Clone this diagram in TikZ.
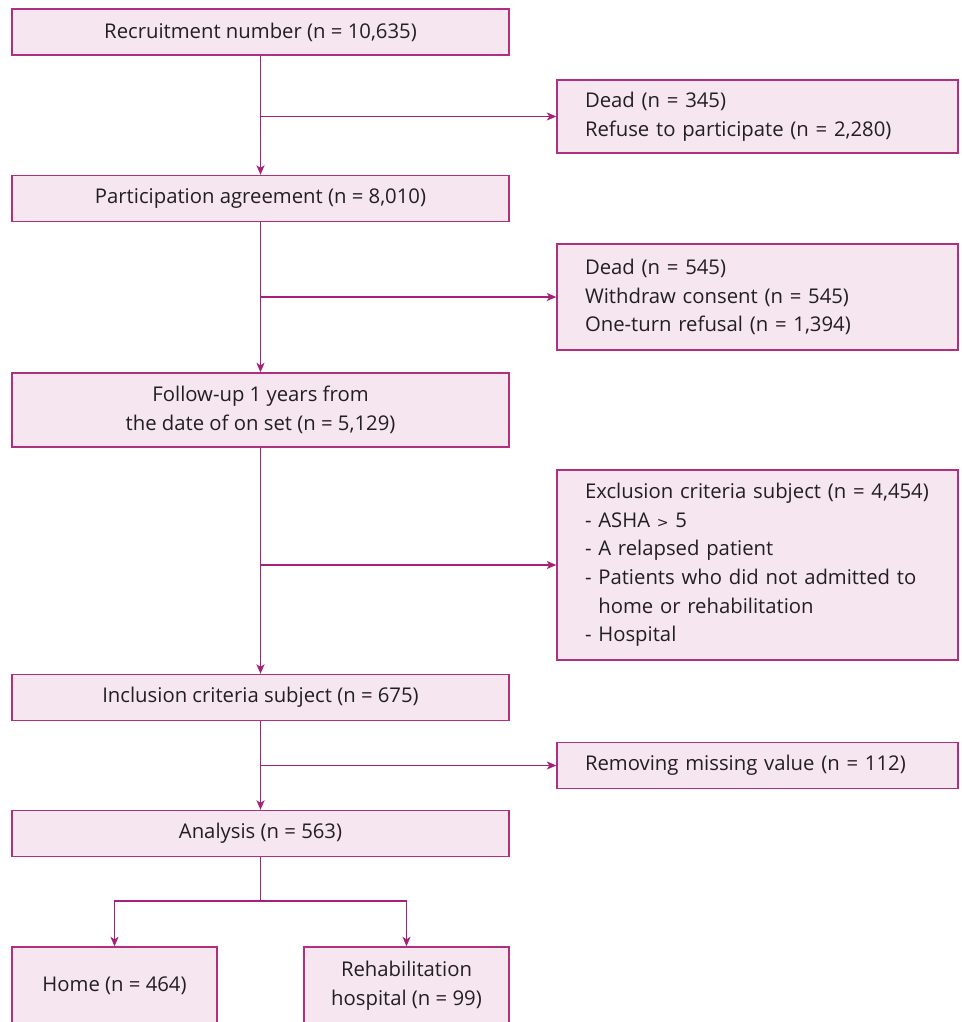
\documentclass[tikz,border=0pt]{standalone}
\usepackage{fontspec}
\setmainfont{Open Sans}
\usetikzlibrary{positioning, arrows.meta}

\definecolor{boxline}{HTML}{B0307F}
\definecolor{boxfill}{HTML}{F5E6F0}
\definecolor{linkcol}{HTML}{A4207A}
\definecolor{txtcol}{HTML}{231F20}

\tikzset{
  mainbox/.style={draw=boxline, line width=0.8pt, fill=boxfill, text=txtcol,
    minimum width=9.94cm, minimum height=0.92cm, align=center, inner sep=0pt,
    font=\fontsize{11.55}{16.3}\selectfont},
  sidebox/.style={draw=boxline, line width=0.8pt, fill=boxfill, text=txtcol,
    text width=6.9cm, inner xsep=0.56cm, inner ysep=0pt, align=left,
    minimum height=0.92cm, font=\fontsize{11.55}{16.3}\selectfont},
  endbox/.style={mainbox, minimum width=4.1cm, minimum height=1.56cm},
  link/.style={draw=linkcol, line width=0.8pt,
    -{Stealth[length=1.9mm, width=1.6mm, inset=0.5mm]}},
  plain/.style={draw=linkcol, line width=0.8pt}
}

\begin{document}
\begin{tikzpicture}[x=0.02cm, y=-0.02cm]
  \clip (0,0) rectangle (962,1022);

  % main column
  \node[mainbox] (rec) at (260.5,32) {Recruitment number (n = 10,635)};
  \node[mainbox] (part) at (260.5,198.5) {Participation agreement (n = 8,010)};
  \node[mainbox, minimum height=1.48cm] (follow) at (260.5,410) {Follow-up 1 years from\\the date of on set (n = 5,129)};
  \node[mainbox] (incl) at (260.5,697.5) {Inclusion criteria subject (n = 675)};
  \node[mainbox] (anal) at (260.5,833.5) {Analysis (n = 563)};

  % side boxes
  \node[sidebox, minimum height=1.46cm] (drop1) at (757.5,116.5) {Dead (n = 345)\\Refuse to participate (n = 2,280)};
  \node[sidebox, minimum height=2.12cm] (drop2) at (757.5,297) {Dead (n = 545)\\Withdraw consent (n = 545)\\One-turn refusal (n = 1,394)};
  \node[sidebox, minimum height=3.8cm] (excl) at (757.5,565) {Exclusion criteria subject (n = 4,454)\\
    - ASHA {\fontspec{DejaVu Sans}\footnotesize>} 5\\
    - A relapsed patient\\
    - Patients who did not admitted to\\
    \hphantom{- }home or rehabilitation\\
    - Hospital};
  \node[sidebox] (miss) at (757.5,765.5) {Removing missing value (n = 112)};

  % outcome boxes
  \node[endbox] (home) at (114.5,986) {Home (n = 464)};
  \node[endbox] (rehab) at (406.5,986) {Rehabilitation\\hospital (n = 99)};

  % connectors
  \draw[link] (rec) -- (part);
  \draw[link] (rec.south |- drop1.west) -- (drop1.west);
  \draw[link] (part) -- (follow);
  \draw[link] (part.south |- drop2.west) -- (drop2.west);
  \draw[link] (follow) -- (incl);
  \draw[link] (follow.south |- excl.west) -- (excl.west);
  \draw[link] (incl) -- (anal);
  \draw[link] (incl.south |- miss.west) -- (miss.west);

  \coordinate (split) at (260.5,901);
  \draw[plain] (anal.south) -- (split);
  \draw[link] (split) -| (home.north);
  \draw[link] (split) -| (rehab.north);
\end{tikzpicture}
\end{document}
